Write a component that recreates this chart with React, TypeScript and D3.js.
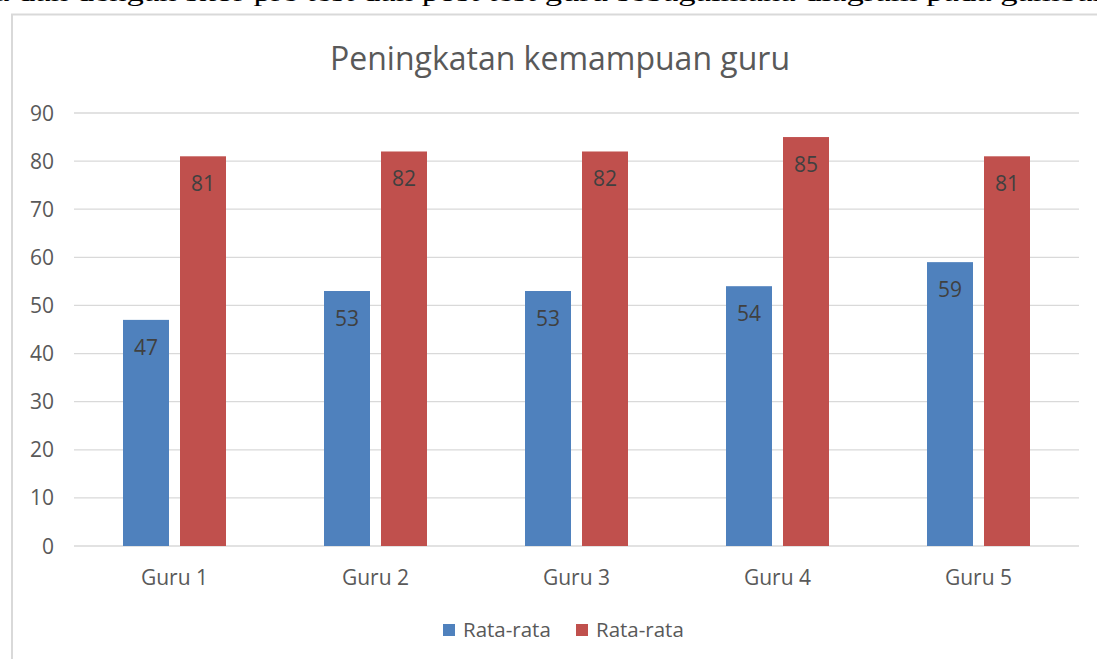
import React from 'react'
import { scaleBand, scaleLinear } from 'd3'

const categories = ['Guru 1', 'Guru 2', 'Guru 3', 'Guru 4', 'Guru 5']
const preTest = [47, 53, 53, 54, 59]
const postTest = [81, 82, 82, 85, 81]
const seriesNames = ['Rata-rata', 'Rata-rata']
const seriesColors = ['#4F81BD', '#C0504D']
const yTicks = [0, 10, 20, 30, 40, 50, 60, 70, 80, 90]

const W = 1097
const H = 659
const margin = { top: 113, right: 18, bottom: 113, left: 74 }
const font = '"Open Sans", "Noto Sans", sans-serif'

export default function App() {
    const x = scaleBand<string>()
        .domain(categories)
        .range([margin.left, W - margin.right])
        .paddingInner(0)
        .paddingOuter(0)

    const y = scaleLinear()
        .domain([0, 90])
        .range([H - margin.bottom, margin.top])

    const series = [preTest, postTest]

    // two bars per group, 46px wide, 11px apart
    const inner = scaleBand<number>()
        .domain([0, 1])
        .range([-51.5, 51.5])
        .paddingInner(11 / 57)
        .paddingOuter(0)

    return (
        <svg width={W} height={H} style={{ position: 'absolute', left: 0, top: 0, background: '#fff' }}>
            {/* cut off sentence from the page above the chart */}
            <text x={-6} y={1} fontFamily='"Liberation Serif", serif' fontSize={26} fill='#000'
                textLength={1110} lengthAdjust="spacingAndGlyphs">
                a dan  dengan skor pre test dan post test guru sebagaimana diagram pada gambar
            </text>

            {/* chart frame */}
            <rect x={12} y={14.5} width={W + 20} height={H + 20} fill="#fff" stroke="#d9d9d9" strokeWidth={2} />

            <text x={560} y={70} textAnchor="middle" fontFamily={font} fontSize={32} fill="#595959">
                Peningkatan kemampuan guru
            </text>

            {/* gridlines + y labels */}
            {yTicks.map((t) => (
                <g key={t}>
                    <line x1={margin.left} x2={W - margin.right} y1={y(t)} y2={y(t)} stroke="#d9d9d9" strokeWidth={1.3} />
                    <text x={54} y={y(t)} dy="0.36em" textAnchor="end" fontFamily={font} fontSize={21} fill="#595959">
                        {t}
                    </text>
                </g>
            ))}

            {/* bars */}
            {categories.map((c, i) => {
                const cx = (x(c) as number) + x.bandwidth() / 2
                return (
                    <g key={c}>
                        {series.map((s, j) => {
                            const bx = cx + (inner(j) as number)
                            return (
                                <g key={j}>
                                    <rect x={bx} y={y(s[i])} width={inner.bandwidth()} height={y(0) - y(s[i])}
                                        fill={seriesColors[j]} />
                                    <text x={bx + inner.bandwidth() / 2} y={y(s[i]) + 35} textAnchor="middle"
                                        fontFamily={font} fontSize={21} fill="#404040">
                                        {s[i]}
                                    </text>
                                </g>
                            )
                        })}
                        <text x={cx} y={585} textAnchor="middle" fontFamily={font} fontSize={21} fill="#595959">
                            {c}
                        </text>
                    </g>
                )
            })}

            {/* legend */}
            {seriesNames.map((n, j) => {
                const lx = j === 0 ? 443 : 576
                return (
                    <g key={j}>
                        <rect x={lx} y={624} width={12} height={12} fill={seriesColors[j]} />
                        <text x={lx + 20} y={637} fontFamily={font} fontSize={20.5} fill="#595959">
                            {n}
                        </text>
                    </g>
                )
            })}
        </svg>
    )
}
